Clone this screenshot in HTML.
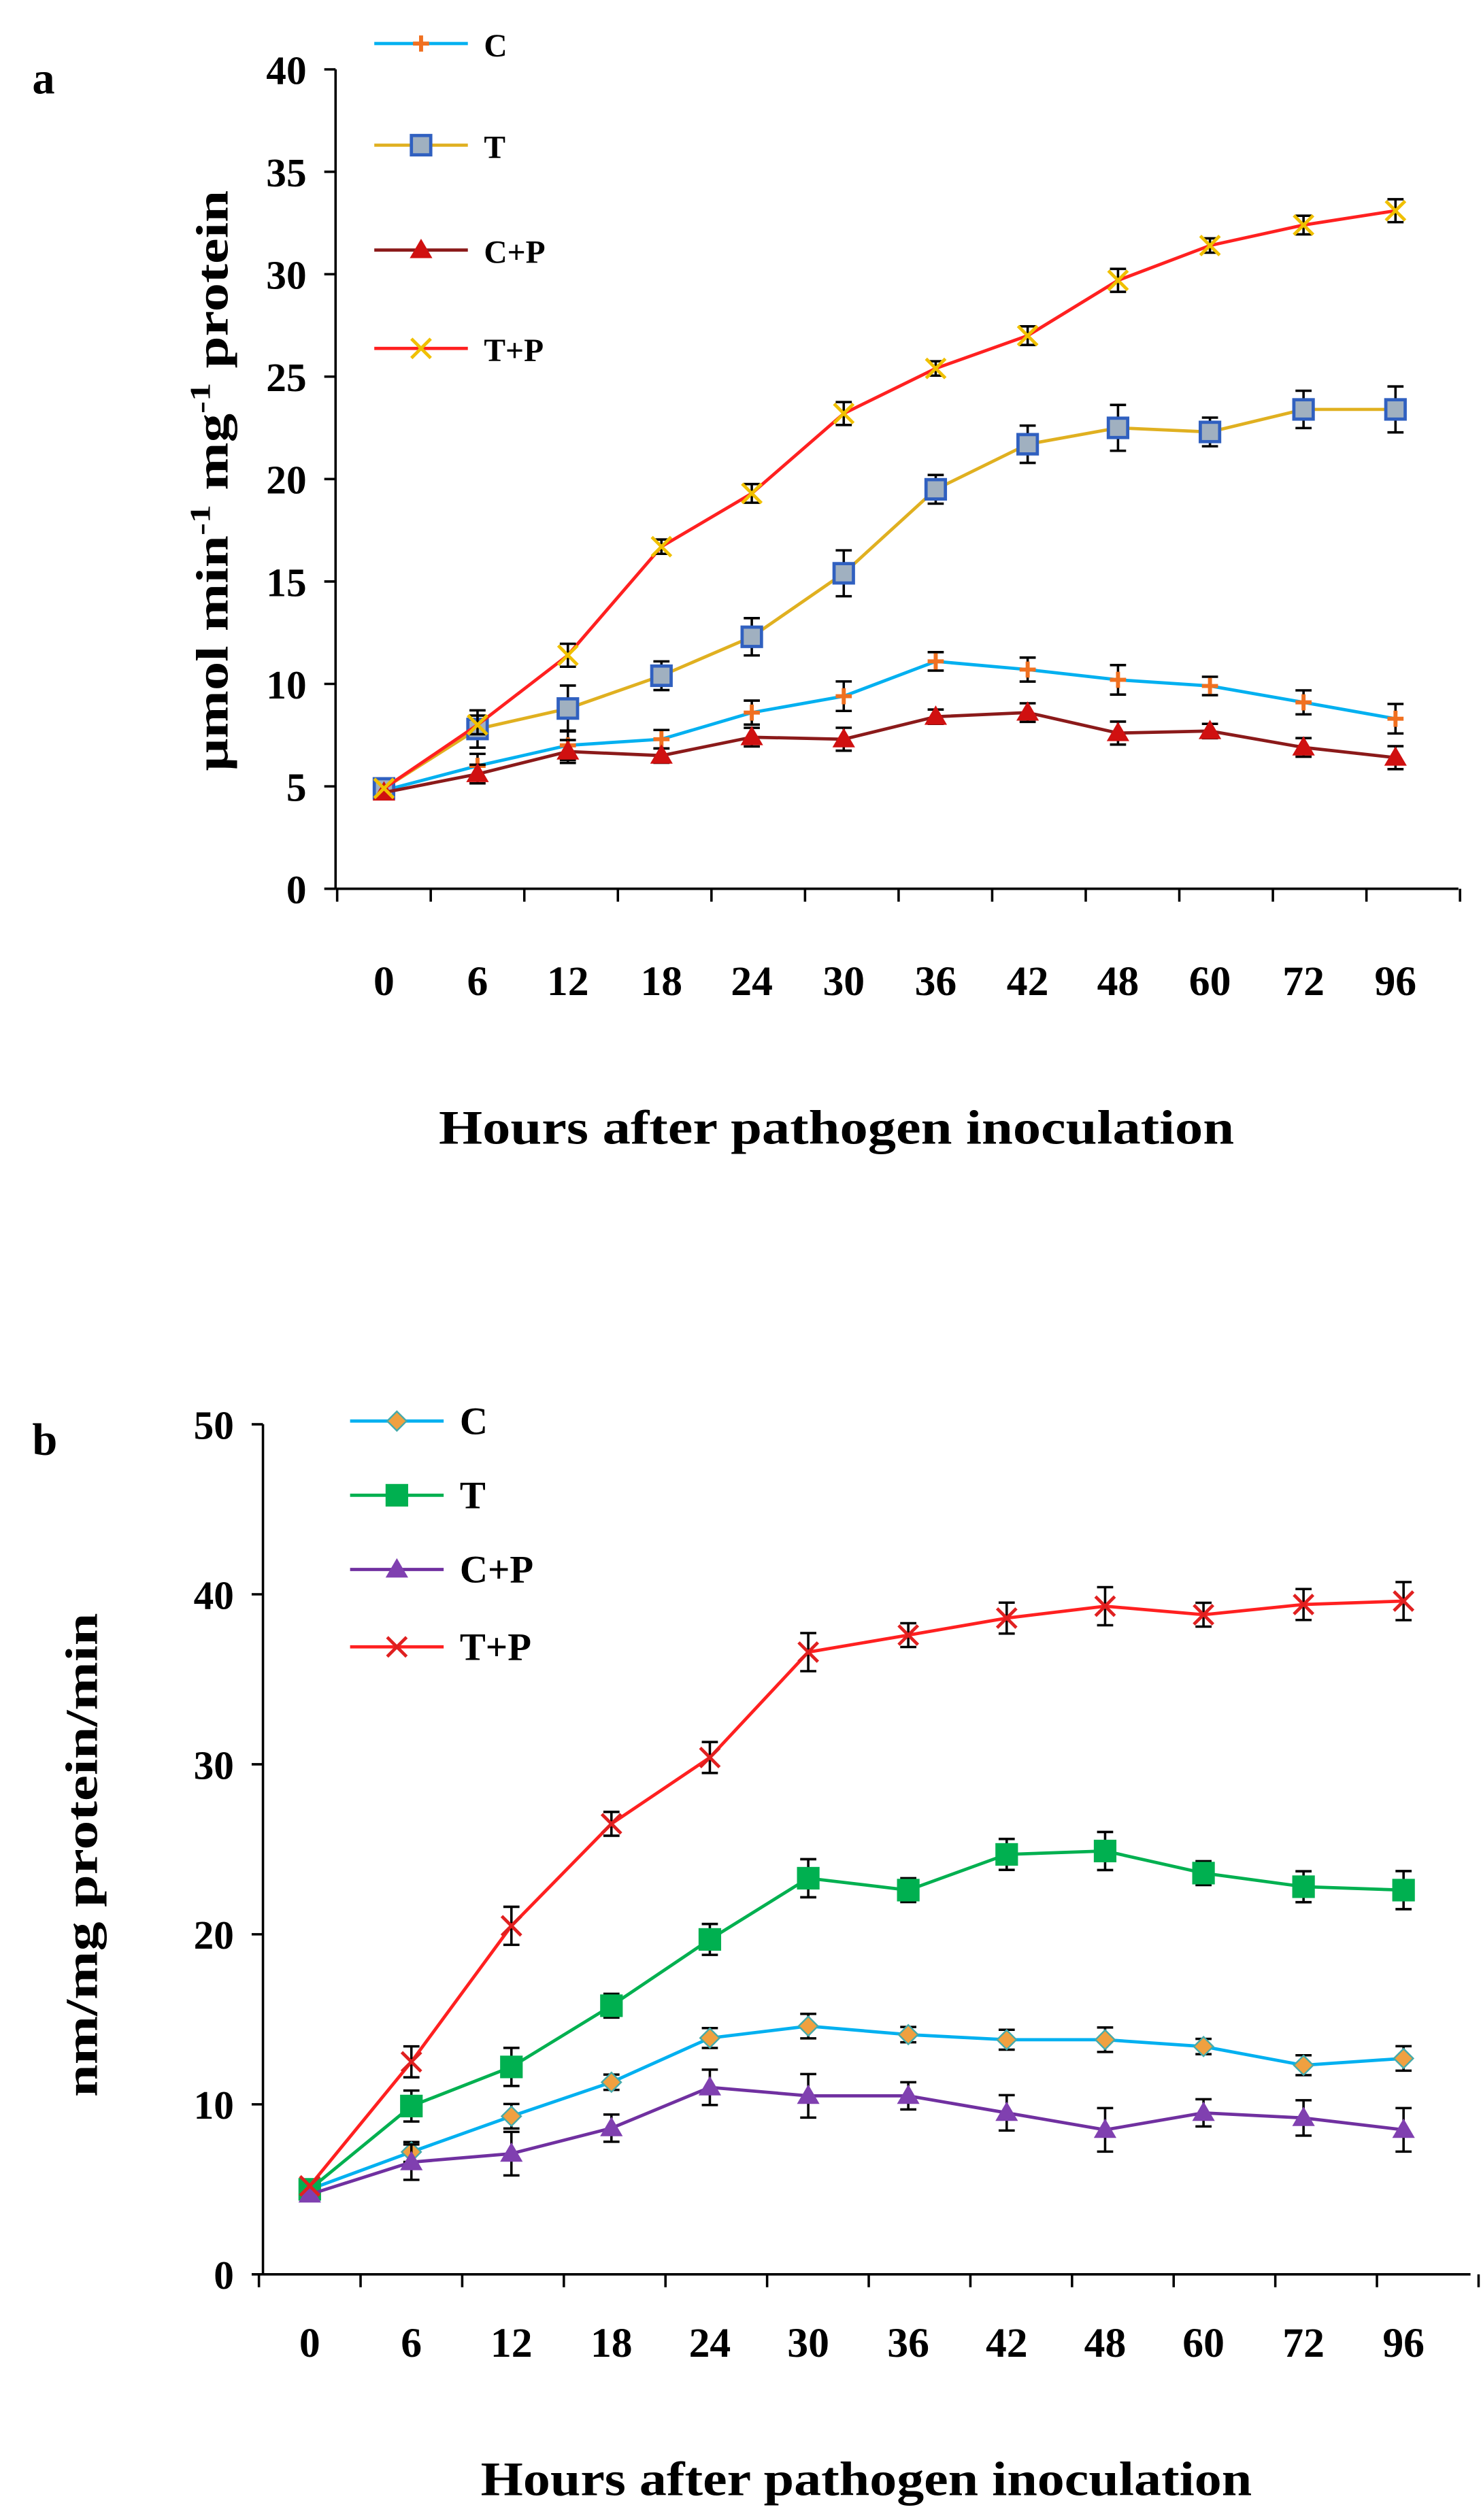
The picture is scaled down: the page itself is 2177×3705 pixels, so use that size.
<!DOCTYPE html>
<html><head><meta charset="utf-8"><style>
html,body{margin:0;padding:0;background:#fff;}
svg{display:block;}
text{font-family:"Liberation Serif",serif;font-weight:bold;fill:#000;}
</style></head><body>
<svg id="s" width="2177" height="3705" viewBox="0 0 918 1562.3" preserveAspectRatio="none" xmlns="http://www.w3.org/2000/svg">
<rect width="918" height="1563" fill="#fff"/>
<text x="20" y="58" font-size="28">a</text>
<text x="20" y="902" font-size="28">b</text>
<text x="272" y="709" font-size="30" textLength="493" lengthAdjust="spacingAndGlyphs">Hours after pathogen inoculation</text>
<text x="298" y="1547" font-size="30" textLength="478" lengthAdjust="spacingAndGlyphs">Hours after pathogen inoculation</text>
<text transform="translate(141,478) rotate(-90)" font-size="28" textLength="360" lengthAdjust="spacingAndGlyphs">μmol min<tspan font-size="18" dy="-11">-1</tspan><tspan dy="11"> mg</tspan><tspan font-size="18" dy="-11">-1</tspan><tspan dy="11"> protein</tspan></text>
<text transform="translate(60,1300) rotate(-90)" font-size="28" textLength="300" lengthAdjust="spacingAndGlyphs">nm/mg protein/min</text>
<g id="g"></g>
</svg>
<script>
const g=document.getElementById('g');let h='';
function panel(o){
 const {ax,y0,ytop,ymax,step,xs,series,leg}=o;
 const Y=v=>y0-(y0-ytop)*v/ymax;
 h+=`<line x1="${ax}" y1="${ytop}" x2="${ax}" y2="${y0}" stroke="#000" stroke-width="1.5"/>`;
 const xend=xs[xs.length-1]+(xs[1]-xs[0])/2+10;
 h+=`<line x1="${ax}" y1="${y0}" x2="${xend}" y2="${y0}" stroke="#000" stroke-width="1.5"/>`;
 for(let v=0;v<=ymax;v+=step){const y=Y(v);h+=`<line x1="${ax-7}" y1="${y}" x2="${ax}" y2="${y}" stroke="#000" stroke-width="1.5"/><text x="${ax-18}" y="${y+9}" font-size="25" text-anchor="end">${v}</text>`;}
 const dx=xs[1]-xs[0];
 for(let i=0;i<=xs.length;i++){const x=xs[0]-dx/2+i*dx;h+=`<line x1="${x}" y1="${y0}" x2="${x}" y2="${y0+8}" stroke="#000" stroke-width="1.5"/>`;}
 const lab=[0,6,12,18,24,30,36,42,48,60,72,96];
 xs.forEach((x,i)=>h+=`<text x="${x}" y="${o.ly}" font-size="26" text-anchor="middle">${lab[i]}</text>`);
 series.forEach((s,k)=>{
  const pts=s.d.map((v,i)=>[xs[i],Y(v)]);
  h+=`<polyline points="${pts.map(p=>p.join(',')).join(' ')}" fill="none" stroke="${s.c}" stroke-width="2"/>`;
  pts.forEach((p,i)=>{if(i==0)return;const e=(y0-ytop)/ymax*s.e*(1+0.3*(i%3));
   h+=`<path d="M${p[0]} ${p[1]-e}V${p[1]+e}M${p[0]-5} ${p[1]-e}h10M${p[0]-5} ${p[1]+e}h10" stroke="#000" stroke-width="1.5"/>`;});
  pts.forEach(p=>h+=mk(s.m,p[0],p[1],s.mc));
  const ly=leg.y[k];
  h+=`<line x1="${leg.x1}" y1="${ly}" x2="${leg.x2}" y2="${ly}" stroke="${s.c}" stroke-width="2"/>`+mk(s.m,(leg.x1+leg.x2)/2,ly,s.mc)+`<text x="${leg.x2+10}" y="${ly+8}" font-size="${leg.fs}">${s.n}</text>`;
 });
}
function mk(m,x,y,c){
 if(m=='sq')return `<rect x="${x-6}" y="${y-6}" width="12" height="12" fill="${c[0]}" stroke="${c[1]}" stroke-width="2"/>`;
 if(m=='gsq')return `<rect x="${x-7}" y="${y-7}" width="14" height="14" fill="${c}"/>`;
 if(m=='tri')return `<path d="M${x} ${y-7}L${x+7} ${y+5}L${x-7} ${y+5}Z" fill="${c}"/>`;
 if(m=='x')return `<path d="M${x-6} ${y-6}L${x+6} ${y+6}M${x+6} ${y-6}L${x-6} ${y+6}" stroke="${c}" stroke-width="2"/>`;
 if(m=='star')return `<path d="M${x-5} ${y}h10M${x} ${y-5}v10" stroke="${c}" stroke-width="2.5"/>`;
 if(m=='dia')return `<path d="M${x} ${y-6}L${x+6} ${y}L${x} ${y+6}L${x-6} ${y}Z" fill="${c}" stroke="#4aa" stroke-width="1"/>`;
}
const xa=[238,296,352,410,466,523,580,637,693,750,808,865];
panel({ax:208,y0:551,ytop:43,ymax:40,step:5,xs:xa,ly:617,
 leg:{x1:232,x2:290,y:[27,90,155,216],fs:20},
 series:[
 {n:'C',c:'#00b0f0',m:'star',mc:'#f07020',e:0.45,d:[4.8,6,7,7.3,8.6,9.4,11.1,10.7,10.2,9.9,9.1,8.3]},
 {n:'T',c:'#e0b020',m:'sq',mc:['#a0b0c0','#3060c0'],e:0.7,d:[4.9,7.8,8.8,10.4,12.3,15.4,19.5,21.7,22.5,22.3,23.4,23.4]},
 {n:'C+P',c:'#8b1a1a',m:'tri',mc:'#d01010',e:0.35,d:[4.7,5.6,6.7,6.5,7.4,7.3,8.4,8.6,7.6,7.7,6.9,6.4]},
 {n:'T+P',c:'#ff2020',m:'x',mc:'#f0c000',e:0.35,d:[4.9,8,11.4,16.7,19.3,23.2,25.4,27,29.7,31.4,32.4,33.1]}]});
const xb=[192,255,317,379,440,501,563,624,685,746,808,870];
panel({ax:163,y0:1410,ytop:883,ymax:50,step:10,xs:xb,ly:1461,
 leg:{x1:217,x2:275,y:[881,927,973,1021],fs:24},
 series:[
 {n:'C',c:'#00b0f0',m:'dia',mc:'#f0a040',e:0.45,d:[5,7.2,9.3,11.3,13.9,14.6,14.1,13.8,13.8,13.4,12.3,12.7]},
 {n:'T',c:'#00b050',m:'gsq',mc:'#00b050',e:0.7,d:[5,9.9,12.2,15.8,19.7,23.3,22.6,24.7,24.9,23.6,22.8,22.6]},
 {n:'C+P',c:'#7030a0',m:'tri',mc:'#8040b0',e:0.8,d:[4.7,6.6,7.1,8.6,11,10.5,10.5,9.5,8.5,9.5,9.2,8.5]},
 {n:'T+P',c:'#ff2020',m:'x',mc:'#e02020',e:0.7,d:[5.2,12.5,20.5,26.5,30.4,36.6,37.6,38.6,39.3,38.8,39.4,39.6]}]});
g.innerHTML=h;
</script>
</body></html>
